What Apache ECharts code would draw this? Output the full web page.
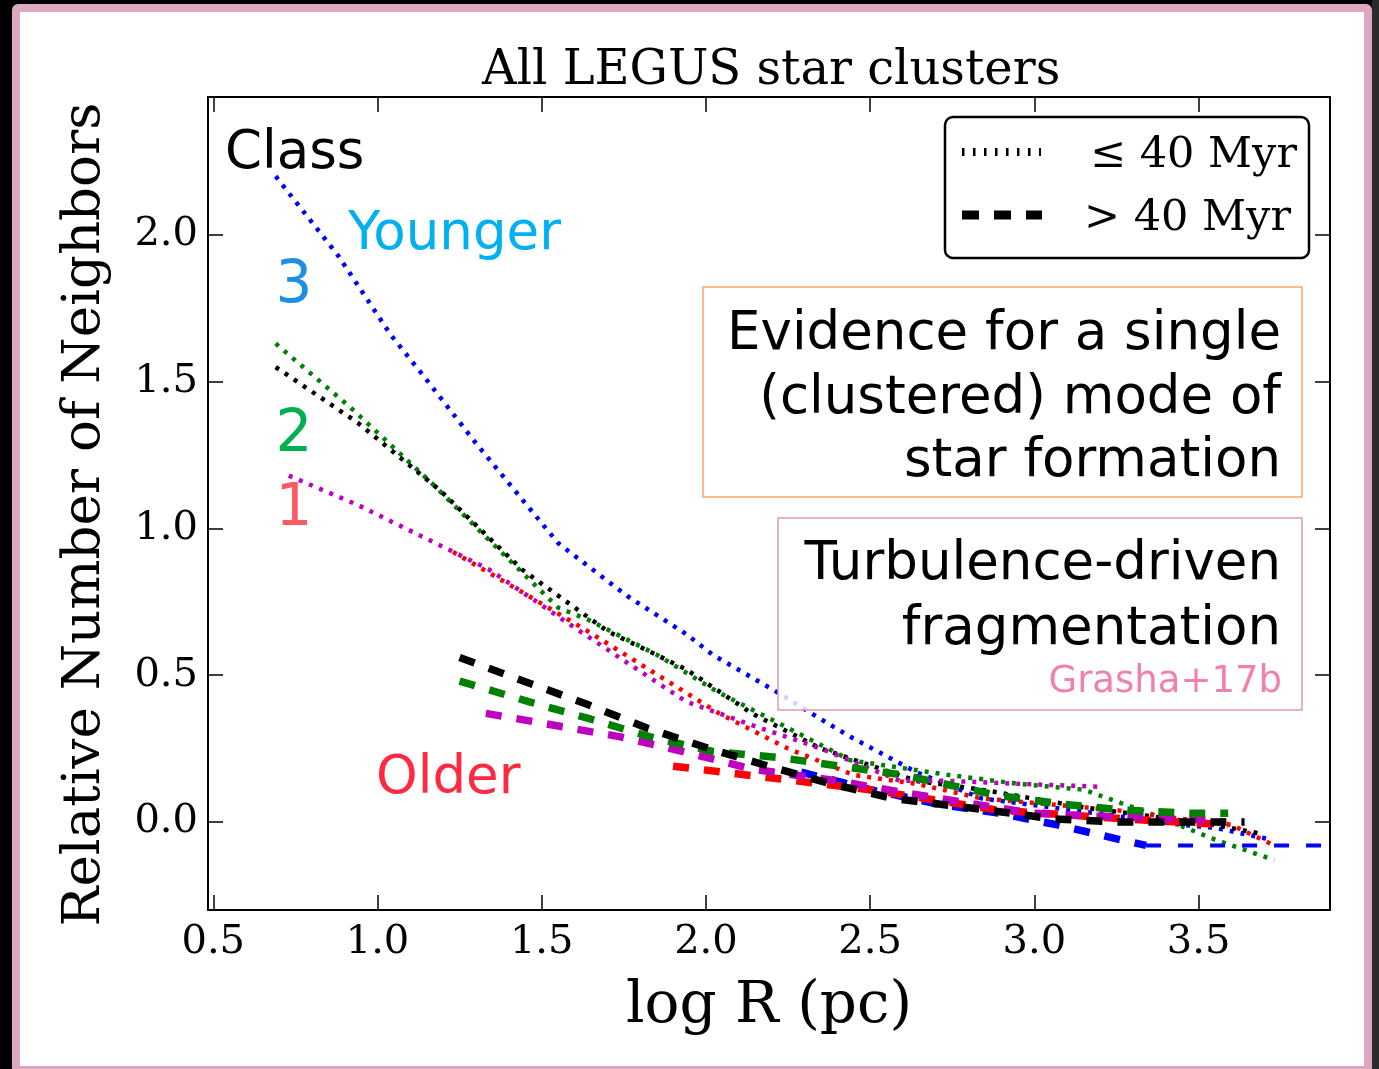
<!DOCTYPE html>
<html>
<head>
<meta charset="utf-8">
<script src="https://cdn.jsdelivr.net/npm/echarts@6/dist/echarts.min.js"></script>
<style>
  html, body { margin: 0; padding: 0; width: 1379px; height: 1069px; overflow: hidden; background: #000; }
  #side { position: absolute; left: 1372px; top: 0; width: 7px; height: 1069px; background: #2a2a2a; }
  #frame { position: absolute; left: 12px; top: 4px; width: 1344px; height: 1054px;
           border: 8px solid #dea7c0; border-radius: 6px; background: #fff; }
  #chart { position: absolute; left: 0; top: 0; width: 1379px; height: 1069px; }
</style>
</head>
<body>
<div id="side"></div>
<div id="frame"></div>
<div id="chart"></div>
<script>
// Tick positions
const xTicks = [0.5, 1.0, 1.5, 2.0, 2.5, 3.0, 3.5];
const yTicks = [0.0, 0.5, 1.0, 1.5, 2.0];

// Young clusters (<= 40 Myr), one curve per class sample: [log R, relative neighbours]
const youngBlue = [[0.69,2.20],[0.88,1.93],[1.04,1.66],[1.14,1.52],[1.30,1.29],[1.55,0.95],[1.76,0.77],[1.94,0.64],[2.02,0.57],[2.22,0.44],[2.35,0.35],[2.44,0.29],[2.64,0.17],[2.84,0.08],[3.05,0.05],[3.25,0.02],[3.45,-0.01],[3.55,-0.02],[3.72,-0.06]];
const youngGreen = [[0.69,1.63],[0.92,1.41],[1.16,1.16],[1.34,0.96],[1.55,0.73],[1.64,0.69],[1.85,0.57],[2.04,0.44],[2.25,0.32],[2.44,0.21],[2.74,0.16],[2.95,0.13],[3.15,0.11],[3.35,0.03],[3.55,-0.06],[3.73,-0.13]];
const youngBlack = [[0.69,1.55],[0.94,1.36],[1.19,1.13],[1.44,0.86],[1.70,0.65],[1.94,0.52],[2.14,0.37],[2.35,0.25],[2.64,0.14],[2.84,0.11],[3.15,0.05],[3.35,0.02],[3.55,-0.01],[3.69,-0.04]];
const youngMagenta = [[0.73,1.18],[0.94,1.08],[1.14,0.97],[1.34,0.86],[1.55,0.70],[1.75,0.55],[1.94,0.41],[2.14,0.33],[2.35,0.25],[2.59,0.14],[2.74,0.14],[2.95,0.13],[3.20,0.12]];
const youngRed = [[1.23,0.92],[1.43,0.79],[1.64,0.65],[1.84,0.51],[2.04,0.37],[2.25,0.25],[2.45,0.16],[2.64,0.13],[2.84,0.08],[3.05,0.06],[3.25,0.04],[3.45,0.01],[3.60,-0.01],[3.73,-0.08]];

// Old clusters (> 40 Myr)
const oldBlue = [[2.29,0.17],[2.50,0.11],[2.71,0.06],[2.89,0.03],[3.07,-0.01],[3.26,-0.06],[3.34,-0.08]];
const oldBlueTail = [[3.34,-0.08],[3.90,-0.08]];
const oldRed = [[1.90,0.19],[2.20,0.15],[2.50,0.11],[2.89,0.04],[3.28,0.01],[3.59,-0.01]];
const oldMagenta = [[1.33,0.37],[1.74,0.29],[1.93,0.24],[2.14,0.18],[2.40,0.14],[2.60,0.10],[2.99,0.03],[3.18,0.02],[3.47,0.01],[3.58,0.00]];
const oldGreen = [[1.25,0.48],[1.46,0.41],[1.65,0.35],[1.83,0.29],[2.02,0.24],[2.22,0.22],[2.41,0.19],[2.60,0.16],[2.89,0.09],[3.09,0.06],[3.28,0.04],[3.47,0.03],[3.59,0.03]];
const oldBlack = [[1.25,0.56],[1.64,0.40],[1.82,0.32],[2.01,0.25],[2.19,0.19],[2.38,0.13],[2.57,0.08],[2.86,0.04],[3.06,0.01],[3.25,0.00],[3.44,0.00],[3.64,0.00]];

const SANS = 'DejaVu Sans';
const SERIF = 'DejaVu Serif';

function young(name, color, data) {
  return { name, type: 'line', data, symbol: 'none', silent: true, z: 2,
           lineStyle: { color, width: 4.5, type: [4, 7], cap: 'butt' } };
}
function old(name, color, data, width, dash) {
  return { name, type: 'line', data, symbol: 'none', silent: true, z: 3,
           lineStyle: { color, width: width || 7.5, type: dash || [16, 15], cap: 'butt' } };
}

function axisPair(isX, ticks, min, max, name, nameGap) {
  const common = {
    type: 'value', min, max,
    axisLine: { show: true, onZero: false, lineStyle: { color: '#000', width: 2 } },
    axisTick: { show: true, inside: true, length: 15, customValues: ticks, lineStyle: { color: '#000', width: 1.5 } },
    splitLine: { show: false }
  };
  const main = Object.assign({}, common, {
    position: isX ? 'bottom' : 'left',
    axisLabel: { customValues: ticks, formatter: v => v.toFixed(1), fontFamily: SERIF, fontSize: 40,
                 color: '#000', margin: isX ? 13 : 10 },
    name, nameLocation: 'middle', nameGap,
    nameTextStyle: isX
      ? { fontFamily: SERIF, fontSize: 58, color: '#000' }
      : { fontFamily: SERIF, fontSize: 53, color: '#000', padding: [0, 22, 0, 0] }
  });
  const mirror = Object.assign({}, common, {
    position: isX ? 'top' : 'right',
    axisLabel: { show: false }
  });
  return [main, mirror];
}

function txt(x, y, text, size, color, family, align) {
  return { type: 'text', x, y, z: 120, silent: true,
           style: { text, fontSize: size, fontFamily: family || SANS, fill: color,
                    align: align || 'left', verticalAlign: 'middle' } };
}

const xs = axisPair(true, xTicks, 0.484, 3.9, 'log R (pc)', 68);
const ys = axisPair(false, yTicks, -0.3, 2.47, 'Relative Number of Neighbors', 96);
ys[1].yAxisIndex = 1;

const option = {
  animation: false,
  backgroundColor: 'transparent',
  title: {
    text: 'All LEGUS star clusters', left: 482, top: 48, padding: 0,
    textStyle: { fontFamily: SERIF, fontSize: 48, fontWeight: 'normal', color: '#000' }
  },
  grid: { left: 208, top: 97, width: 1122, height: 813, show: false },
  xAxis: xs,
  yAxis: ys,
  series: [
    young('young-blue', '#0000ff', youngBlue),
    young('young-green', '#008000', youngGreen),
    young('young-black', '#000000', youngBlack),
    young('young-magenta', '#bf00bf', youngMagenta),
    young('young-red', '#ff0000', youngRed),
    old('old-blue', '#0000ff', oldBlue),
    old('old-blue-tail', '#0000ff', oldBlueTail, 4, [15, 17]),
    old('old-red', '#ff0000', oldRed),
    old('old-magenta', '#bf00bf', oldMagenta),
    old('old-green', '#008000', oldGreen),
    old('old-black', '#000000', oldBlack)
  ],
  graphic: [
    // class annotations
    txt(225, 154, 'Class', 53, '#000'),
    txt(348, 235, 'Younger', 53, '#00b0f0'),
    txt(294, 287, '3', 58, '#1e8fe4', SANS, 'center'),
    txt(294, 436, '2', 58, '#00b050', SANS, 'center'),
    txt(294, 510, '1', 58, '#ff5a64', SANS, 'center'),
    txt(376, 779, 'Older', 53, '#ff2a42'),

    // interpretation boxes
    { type: 'rect', z: 110, silent: true, shape: { x: 703, y: 287, width: 599, height: 210 },
      style: { fill: 'rgba(255,255,255,0.82)', stroke: '#f9a466', lineWidth: 1.5 } },
    txt(1281, 335, 'Evidence for a single', 53, '#000', SANS, 'right'),
    txt(1281, 399, '(clustered) mode of', 53, '#000', SANS, 'right'),
    txt(1281, 462, 'star formation', 53, '#000', SANS, 'right'),

    { type: 'rect', z: 110, silent: true, shape: { x: 778, y: 518, width: 524, height: 192 },
      style: { fill: 'rgba(255,255,255,0.82)', stroke: '#da9ab4', lineWidth: 1.5 } },
    txt(1281, 565, 'Turbulence-driven', 53, '#000', SANS, 'right'),
    txt(1281, 630, 'fragmentation', 53, '#000', SANS, 'right'),
    txt(1282, 682, 'Grasha+17b', 37, '#f080b0', SANS, 'right'),

    // age legend
    { type: 'rect', z: 110, silent: true, shape: { x: 945, y: 117, width: 364, height: 141, r: 8 },
      style: { fill: '#fff', stroke: '#000', lineWidth: 2.5 } },
    { type: 'line', z: 115, silent: true, shape: { x1: 962, y1: 152, x2: 1041, y2: 152 },
      style: { stroke: '#000', lineWidth: 8, lineDash: [2.5, 8.5] } },
    { type: 'line', z: 115, silent: true, shape: { x1: 962, y1: 215, x2: 1042, y2: 215 },
      style: { stroke: '#000', lineWidth: 9, lineDash: [17, 15] } },
    txt(1090, 156, '\u2264 40 Myr', 43, '#000', SERIF),
    txt(1084, 219, '> 40 Myr', 43, '#000', SERIF)
  ]
};

const chart = echarts.init(document.getElementById('chart'));
chart.setOption(option);
</script>
</body>
</html>
